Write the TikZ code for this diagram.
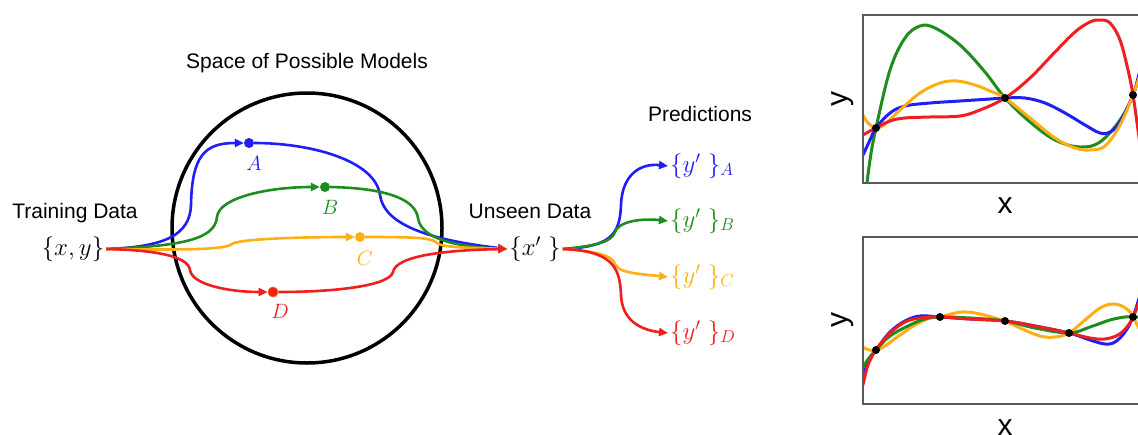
\documentclass[tikz,border=0pt]{standalone}
\usepackage{fontspec}
\setmainfont{Liberation Sans}
\usetikzlibrary{arrows.meta}
\definecolor{cblue}{RGB}{30,30,245}
\definecolor{cgreen}{RGB}{30,140,30}
\definecolor{corange}{RGB}{255,175,20}
\definecolor{cred}{RGB}{240,30,30}
\begin{document}
\begin{tikzpicture}[x=1pt,y=-1pt,
  flow/.style={line width=2.6pt},
  tip/.style={-{Triangle[length=9pt,width=8pt]}},
  dotnode/.style={circle,inner sep=0pt,minimum size=10pt},
  lbl/.style={font=\fontsize{21}{25}\selectfont},
  mth/.style={font=\fontsize{26}{30}\selectfont,inner sep=2pt},
  ltr/.style={font=\fontsize{21}{25}\selectfont,inner sep=0pt},
  curve/.style={line width=3pt},
  frame/.style={draw=black!65,line width=1.3pt},
  axl/.style={font=\fontsize{30}{34}\selectfont},
  pt/.style={circle,fill=black,inner sep=0pt,minimum size=8pt}
]
\useasboundingbox (0,0) rectangle (1138,434);

% ---------- left diagram ----------
\node[lbl] (title) at (307,63) {Space of Possible Models};
\node[draw,circle,line width=3.5pt,minimum size=270pt,inner sep=0pt] (space) at (307,228) {};

\node[lbl] (train) at (75,213) {Training Data};
\node[mth] (xy) at (73,249) {$\{x,y\}$};

\node[lbl] (unseen) at (530,211) {Unseen Data};
\node[mth] (xp) at (535,249) {$\{x'\ \}$};

\node[lbl] (pred) at (700,114) {Predictions};

\node[dotnode,fill=cblue] (A) at (249,143) {};
\node[dotnode,fill=cgreen] (B) at (325,187) {};
\node[dotnode,fill=corange] (C) at (360,237) {};
\node[dotnode,fill=cred,draw=orange!80!red,line width=0.8pt] (D) at (273,292) {};

\node[ltr,text=cblue] (la) at (254,163) {$A$};
\node[ltr,text=cgreen] (lb) at (330,207) {$B$};
\node[ltr,text=corange] (lc) at (365,258) {$C$};
\node[ltr,text=cred] (ld) at (280,311) {$D$};

% paths from training data to models
\draw[flow,cblue,tip] (xy.east) .. controls (165,247) and (190,235) .. (191,205)
  .. controls (192,155) and (205,143) .. (A.west);
\draw[flow,cgreen,tip] (xy.east) .. controls (180,246) and (215,240) .. (217,217)
  .. controls (219,197) and (270,187) .. (B.west);
\draw[flow,corange,tip] (xy.east) .. controls (180,250) and (225,250) .. (232,244)
  .. controls (238,239) and (300,237) .. (C.west);
\draw[flow,cred,tip] (xy.east) .. controls (150,250) and (188,255) .. (190,270)
  .. controls (192,285) and (230,292) .. (D.west);

% paths from models to unseen data
\draw[flow,cblue,tip] (A.east) .. controls (310,143) and (375,160) .. (380,195)
  .. controls (384,225) and (430,240) .. (xp.west);
\draw[flow,cgreen,tip] (B.east) .. controls (380,188) and (415,197) .. (418,218)
  .. controls (421,240) and (460,247) .. (xp.west);
\draw[flow,corange,tip] (C.east) .. controls (420,237) and (432,238) .. (437,243)
  .. controls (442,248) and (480,248) .. (xp.west);
\draw[flow,cred,tip] (D.east) .. controls (340,292) and (390,285) .. (393,272)
  .. controls (396,255) and (450,250) .. (xp.west);

% predictions
\node[mth,anchor=west,text=cblue] (yA) at (668,166) {$\{y'\ \}_A$};
\node[mth,anchor=west,text=cgreen] (yB) at (668,221) {$\{y'\ \}_B$};
\node[mth,anchor=west,text=corange] (yC) at (668,277) {$\{y'\ \}_C$};
\node[mth,anchor=west,text=cred] (yD) at (668,333) {$\{y'\ \}_D$};

\draw[flow,cblue,tip] (xp.east) .. controls (610,247) and (620,235) .. (621,205)
  .. controls (622,175) and (640,163) .. (yA.west);
\draw[flow,cgreen,tip] (xp.east) .. controls (595,246) and (612,242) .. (615,232)
  .. controls (618,222) and (640,218) .. (yB.west);
\draw[flow,corange,tip] (xp.east) .. controls (595,251) and (612,255) .. (615,264)
  .. controls (618,273) and (640,274) .. (yC.west);
\draw[flow,cred,tip] (xp.east) .. controls (610,251) and (620,265) .. (621,295)
  .. controls (622,320) and (640,330) .. (yD.west);

% ---------- top plot ----------
\begin{scope}
\clip (863,15) rectangle (1150,183);
\draw[curve,cgreen] plot[smooth,tension=0.6] coordinates {(865,200) (870,160) (876,128) (890,70) (905,38) (920,26) (935,28) (960,45) (985,72) (1005,98) (1030,122) (1055,140) (1080,147) (1100,142) (1120,120) (1133,95) (1145,60)};
\draw[curve,cblue] plot[smooth,tension=0.6] coordinates {(863,155) (870,140) (876,128) (890,113) (905,106) (930,103) (960,101) (990,99) (1005,98) (1025,98) (1045,103) (1065,113) (1085,125) (1100,133) (1110,132) (1120,122) (1133,95) (1140,70)};
\draw[curve,corange] plot[smooth,tension=0.6] coordinates {(863,115) (868,123) (876,128) (885,124) (900,110) (920,93) (940,83) (957,81) (975,85) (990,91) (1005,98) (1030,118) (1055,138) (1075,148) (1090,150) (1105,146) (1120,125) (1133,95) (1140,75)};
\draw[curve,cred] plot[smooth,tension=0.6] coordinates {(863,135) (870,131) (876,128) (890,121) (905,118) (930,117) (960,116) (980,110) (1005,98) (1030,78) (1055,52) (1075,32) (1090,22) (1100,20) (1110,23) (1120,40) (1128,70) (1133,95) (1138,130) (1142,160)};
\end{scope}
\draw[frame] (863,15) rectangle (1150,183);
\node[pt] (p1) at (876,128) {};
\node[pt] (p2) at (1005,98) {};
\node[pt] (p3) at (1133,95) {};
\node[axl] (xl1) at (1005,206) {x};
\node[axl,rotate=90] (yl1) at (843,99) {y};

% ---------- bottom plot ----------
\begin{scope}
\clip (863,237) rectangle (1150,404);
\draw[curve,cblue] plot[smooth,tension=0.6] coordinates {(863,378) (868,362) (876,350) (890,332) (905,321) (920,316) (940,317) (970,319) (1005,321) (1035,326) (1069,333) (1090,340) (1105,344) (1115,342) (1125,332) (1133,317) (1140,295)};
\draw[curve,corange] plot[smooth,tension=0.6] coordinates {(863,347) (869,350) (876,350) (885,346) (900,335) (915,325) (930,318) (940,317) (955,313) (967,312) (980,314) (995,318) (1005,321) (1020,328) (1040,336) (1055,337) (1069,333) (1085,320) (1100,308) (1112,304) (1122,306) (1130,312) (1133,317) (1140,330)};
\draw[curve,cgreen] plot[smooth,tension=0.6] coordinates {(863,367) (869,358) (876,350) (890,336) (910,325) (925,319) (940,317) (970,318) (1005,321) (1035,328) (1069,333) (1090,327) (1110,320) (1125,317) (1133,317) (1140,317)};
\draw[curve,cred] plot[smooth,tension=0.6] coordinates {(863,385) (868,365) (876,350) (890,333) (905,322) (920,318) (940,317) (970,319) (1005,321) (1035,326) (1069,333) (1090,338) (1105,339) (1118,335) (1127,327) (1133,317) (1140,300)};
\end{scope}
\draw[frame] (863,237) rectangle (1150,404);
\node[pt] (q1) at (876,350) {};
\node[pt] (q2) at (940,317) {};
\node[pt] (q3) at (1005,321) {};
\node[pt] (q4) at (1069,333) {};
\node[pt] (q5) at (1133,317) {};
\node[axl] (xl2) at (1005,428) {x};
\node[axl,rotate=90] (yl2) at (843,320) {y};
\end{tikzpicture}
\end{document}
